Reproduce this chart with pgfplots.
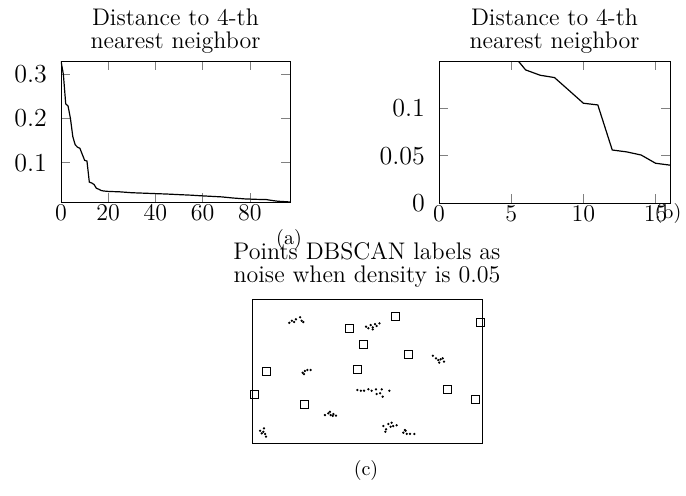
\documentclass[border=0pt]{standalone}
\usepackage{pgfplots}
\pgfplotsset{compat=1.18}

\pgfplotstableread{
x y
0 0.330
1 0.300
2 0.233
3 0.228
4 0.200
5 0.159
6 0.1406
7 0.135
8 0.1325
9 0.119
10 0.1054
11 0.1036
12 0.056
13 0.054
14 0.0507
15 0.042
16 0.040
17 0.037
18 0.036
20 0.035
25 0.034
30 0.032
35 0.031
40 0.030
45 0.029
50 0.0277
55 0.0265
58 0.0255
63 0.024
68 0.0226
73 0.020
78 0.018
83 0.017
87 0.0165
90 0.014
92 0.0127
95 0.0118
97 0.011
}\knn

\pgfplotstableread{
x y
0.625 0.877
0.423 0.797
0.991 0.835
0.484 0.688
0.680 0.616
0.064 0.500
0.458 0.514
0.010 0.340
0.851 0.375
0.226 0.269
0.973 0.306
}\noise

\pgfplotstableread{
x y
0.162 0.835
0.173 0.849
0.183 0.840
0.191 0.859
0.209 0.873
0.216 0.849
0.223 0.840
0.496 0.808
0.506 0.797
0.516 0.819
0.525 0.803
0.535 0.826
0.542 0.813
0.554 0.831
0.525 0.789
0.786 0.606
0.800 0.588
0.810 0.576
0.820 0.581
0.829 0.588
0.835 0.565
0.814 0.558
0.220 0.488
0.230 0.500
0.241 0.507
0.255 0.507
0.226 0.479
0.458 0.368
0.473 0.363
0.487 0.363
0.506 0.373
0.520 0.363
0.539 0.373
0.542 0.340
0.564 0.373
0.568 0.322
0.597 0.363
0.557 0.345
0.317 0.194
0.332 0.206
0.342 0.194
0.354 0.201
0.365 0.190
0.339 0.217
0.351 0.188
0.571 0.118
0.583 0.095
0.593 0.132
0.603 0.113
0.614 0.118
0.629 0.123
0.580 0.078
0.607 0.141
0.658 0.072
0.668 0.085
0.673 0.063
0.687 0.063
0.706 0.063
0.665 0.090
0.035 0.085
0.052 0.102
0.042 0.067
0.057 0.063
0.061 0.044
0.049 0.078
}\clustered

\def\u{0.5pt}

\begin{document}
\begin{tikzpicture}
\useasboundingbox (0,0) rectangle (686*\u,-495*\u);

\pgfplotsset{
  mytitle/.style={
    title style={at={(0.5,1)}, anchor=south, yshift=-5.5pt, align=center,
      font=\fontsize{12}{11.5}\selectfont},
  },
  knnstyle/.style={
    scale only axis, mytitle,
    scaled ticks=false,
    tick label style={font=\fontsize{13}{15}\selectfont},
    xticklabel style={yshift=2pt},
    yticklabel style={xshift=-3.5pt},
  },
}

% (a)
\begin{axis}[knnstyle,
    at={(61*\u,-202*\u)}, anchor=south west,
    width=114.5pt, height=70.5pt,
    title={Distance to 4-th\\nearest neighbor},
    xmin=0, xmax=97, ymin=0.011, ymax=0.33,
    xtick={0,20,40,60,80},
    ytick={0.1,0.2,0.3}, yticklabels={0.1,0.2,0.3},
]
\addplot[black, line width=0.6pt] table[x=x,y=y] {\knn};
\end{axis}

% (b)
\begin{axis}[knnstyle,
    at={(439*\u,-203*\u)}, anchor=south west,
    width=115.5pt, height=71pt,
    title={Distance to 4-th\\nearest neighbor},
    xmin=0, xmax=16, ymin=0, ymax=0.15,
    xtick={0,5,10,15},
    ytick={0,0.05,0.1}, yticklabels={0,0.05,0.1},
]
\addplot[black, line width=0.6pt] table[x=x,y=y] {\knn};
\end{axis}

% (c)
\begin{axis}[scale only axis, mytitle,
    title style={yshift=2pt},
    at={(252*\u,-443*\u)}, anchor=south west,
    width=115pt, height=72pt,
    title={Points DBSCAN labels as\\noise when density is 0.05},
    xmin=0, xmax=1, ymin=0, ymax=1,
    xtick=\empty, ytick=\empty, clip=false,
]
\addplot[only marks, mark=square, mark size=2pt, black, thin] table[x=x,y=y] {\noise};
\addplot[only marks, mark=*, mark size=0.35pt, black] table[x=x,y=y] {\clustered};
\end{axis}

\node at (289*\u,-239*\u) {(a)};
\node at (668*\u,-213*\u) {(b)};
\node at (366*\u,-470*\u) {(c)};
\end{tikzpicture}
\end{document}
